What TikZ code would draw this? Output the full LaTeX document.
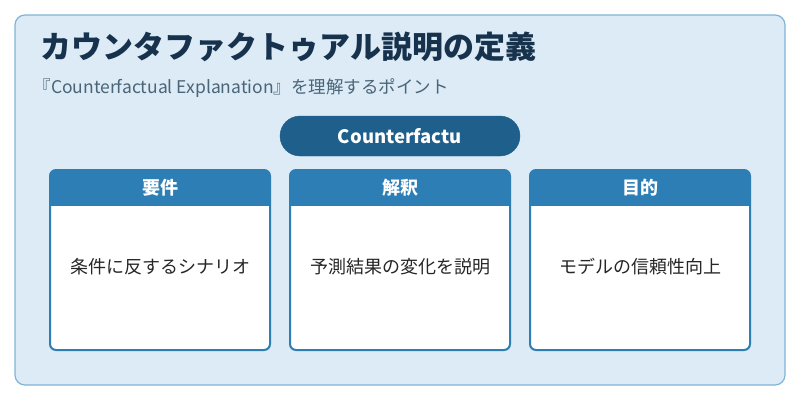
\documentclass[tikz,border=0pt]{standalone}
\usepackage{fontspec}
\setmainfont{Noto Sans CJK JP}
\definecolor{bgblue}{HTML}{DCEBF6}
\definecolor{rimblue}{HTML}{7FB4D8}
\definecolor{pillblue}{HTML}{1F5F8B}
\definecolor{headblue}{HTML}{2E7EB6}
\definecolor{titlecol}{HTML}{17324D}
\definecolor{subcol}{HTML}{4A6478}
\tikzset{
  cardbox/.style={draw=headblue, line width=2pt, rounded corners=6pt},
  cardhead/.style={text=white, font=\fontsize{18}{21}\selectfont\bfseries},
  cardtext/.style={text=black!85, font=\fontsize{18}{21}\selectfont}
}
\begin{document}
\begin{tikzpicture}[x=1pt,y=-1pt]
\useasboundingbox (0,0) rectangle (800,400);
\fill [white] (0,0) rectangle (800,400);
\draw [rimblue, fill=bgblue, line width=1.2pt, rounded corners=10pt] (15,15) rectangle (785,385);
\node (title) [anchor=west, text=titlecol, font=\fontsize{31}{36}\selectfont\bfseries] at (37,47) {カウンタファクトゥアル説明の定義};
\node (sub) [anchor=west, text=subcol, font=\fontsize{17.5}{21}\selectfont] at (30,88) {『Counterfactual Explanation』を理解するポイント};
\draw [pillblue, fill=pillblue, rounded corners=20pt] (280,116) rectangle (520,156);
\node (pill) [text=white, font=\fontsize{18.5}{22}\selectfont\bfseries] at (400,136) {Counterfactu};
% three cards
\foreach \x/\head/\body/\nm in {50/要件/条件に反するシナリオ/req, 290/解釈/予測結果の変化を説明/int, 530/目的/モデルの信頼性向上/goal} {
  \begin{scope}
    \clip [rounded corners=6pt] (\x,170) rectangle (\x+220,350);
    \fill [white] (\x,170) rectangle (\x+220,350);
    \fill [headblue] (\x,170) rectangle (\x+220,206);
  \end{scope}
  \draw [cardbox] (\x,170) rectangle (\x+220,350);
  \node (\nm head) [cardhead] at (\x+110,188) {\head};
  \node (\nm text) [cardtext] at (\x+110,267) {\body};
}
\end{tikzpicture}
\end{document}
